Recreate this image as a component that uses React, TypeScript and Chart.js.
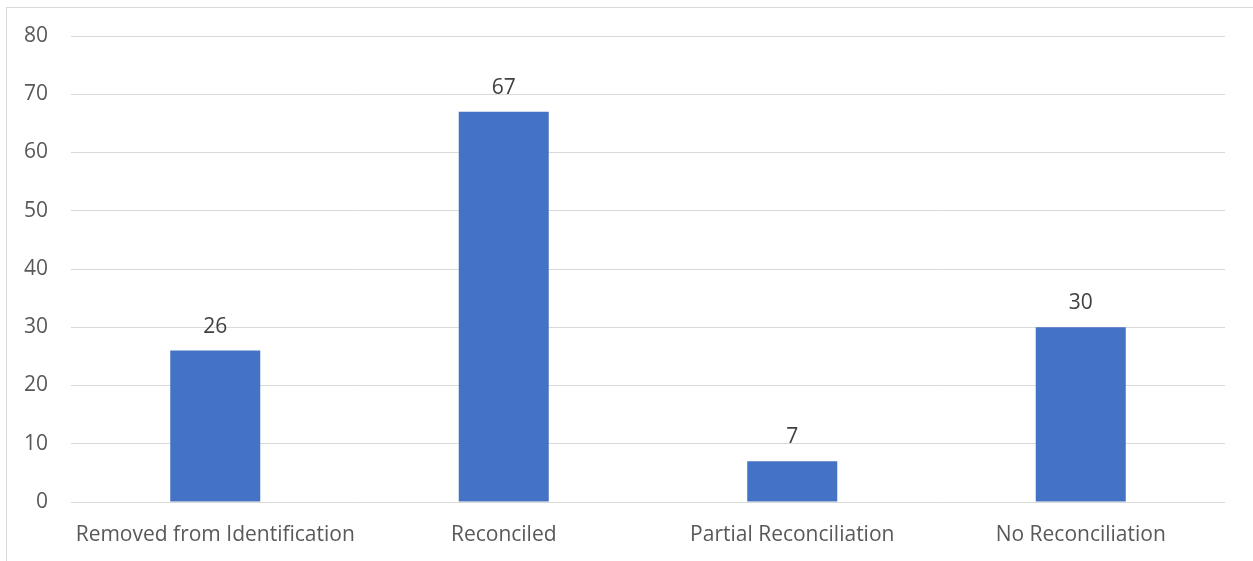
import React, { useEffect, useRef } from "react";
import { Chart, registerables } from "chart.js";

Chart.register(...registerables);

const categories = ["Removed from Identification", "Reconciled", "Partial Reconciliation", "No Reconciliation"];
const values = [26, 67, 7, 30];
const yTicks = [0, 10, 20, 30, 40, 50, 60, 70, 80];

const FONT = "'Open Sans', 'Liberation Sans', sans-serif";

const dataLabelPlugin = {
  id: "dataLabels",
  afterDatasetsDraw(chart: any) {
    const ctx = chart.ctx;
    const meta = chart.getDatasetMeta(0);
    ctx.save();
    ctx.fillStyle = "#404040";
    ctx.font = `21px ${FONT}`;
    ctx.textAlign = "center";
    ctx.textBaseline = "alphabetic";
    meta.data.forEach((bar: any, i: number) => {
      ctx.fillText(String(chart.data.datasets[0].data[i]), bar.x, bar.y - 18);
    });
    ctx.restore();
  },
};

export default function App() {
  const ref = useRef<HTMLCanvasElement>(null);
  useEffect(() => {
    if (!ref.current) return;
    const chart = new Chart(ref.current, {
      type: "bar",
      data: {
        labels: categories,
        datasets: [
          {
            data: values,
            backgroundColor: "#4472c4",
            barPercentage: 1,
            categoryPercentage: 0.312,
          },
        ],
      },
      options: {
        animation: false,
        responsive: false,
        maintainAspectRatio: false,
        layout: { autoPadding: false, padding: { left: 0, right: 28, top: 36, bottom: 0 } },
        plugins: { legend: { display: false }, tooltip: { enabled: false } },
        scales: {
          x: {
            grid: { display: false },
            border: { display: false },
            ticks: { color: "#595959", font: { family: FONT, size: 21 }, padding: 12, maxRotation: 0 },
            afterFit: (s: any) => { s.height = 59; },
          },
          y: {
            min: 0,
            max: 80,
            afterBuildTicks: (s: any) => { s.ticks = yTicks.map((v) => ({ value: v })); },
            grid: { color: "#d9d9d9", lineWidth: 1, drawTicks: false },
            border: { display: false },
            ticks: { color: "#595959", font: { family: FONT, size: 21 }, padding: 23 },
            afterFit: (s: any) => { s.width = 71; },
          },
        },
      },
      plugins: [dataLabelPlugin],
    });
    return () => chart.destroy();
  }, []);
  return (
    <div style={{ position: "absolute", left: 0, top: 0, width: 1253, height: 561, overflow: "hidden", background: "#fff" }}>
      <div style={{ position: "absolute", left: 6, top: 7, width: 1300, height: 600, border: "1px solid #d9d9d9", boxSizing: "border-box" }} />
      <canvas ref={ref} width={1253} height={561} style={{ position: "absolute", left: 0, top: 0 }} />
    </div>
  );
}
